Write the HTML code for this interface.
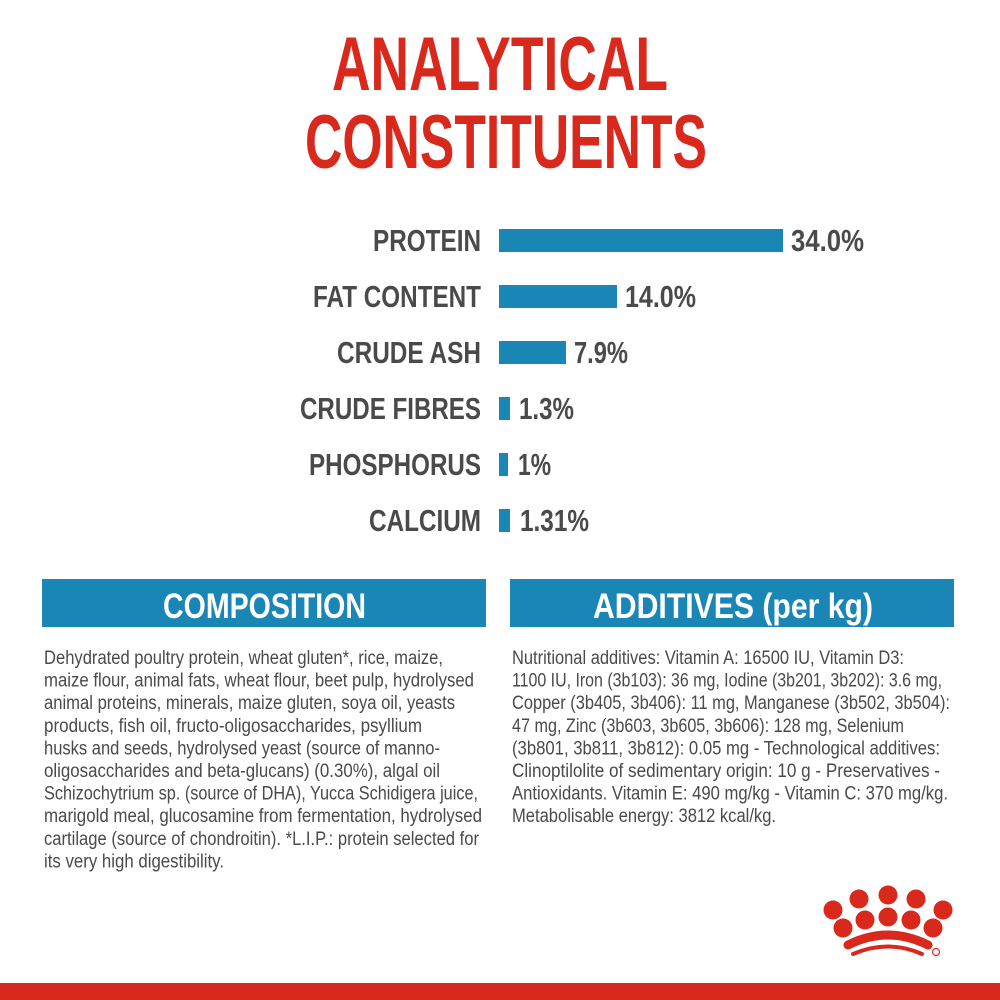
<!DOCTYPE html>
<html><head><meta charset="utf-8"><style>
html,body{margin:0;padding:0;background:#fff;width:1000px;height:1000px;overflow:hidden}
svg{display:block}
text{font-family:"Liberation Sans",sans-serif}
</style></head><body>
<svg width="1000" height="1000" viewBox="0 0 1000 1000" xmlns="http://www.w3.org/2000/svg">
<rect width="1000" height="1000" fill="#fff"/>
<g fill="#d9291c" font-size="76" font-weight="bold">
<text x="332" y="90" textLength="336" lengthAdjust="spacingAndGlyphs">ANALYTICAL</text>
<text x="305" y="168" textLength="402" lengthAdjust="spacingAndGlyphs">CONSTITUENTS</text>
</g>
<g fill="#4a4a4a" font-weight="bold" font-size="31" text-anchor="end">
<text x="481" y="251" textLength="108" lengthAdjust="spacingAndGlyphs">PROTEIN</text>
<text x="481" y="307" textLength="168" lengthAdjust="spacingAndGlyphs">FAT CONTENT</text>
<text x="481" y="363" textLength="144" lengthAdjust="spacingAndGlyphs">CRUDE ASH</text>
<text x="481" y="419" textLength="181" lengthAdjust="spacingAndGlyphs">CRUDE FIBRES</text>
<text x="481" y="475" textLength="172" lengthAdjust="spacingAndGlyphs">PHOSPHORUS</text>
<text x="481" y="531" textLength="112" lengthAdjust="spacingAndGlyphs">CALCIUM</text>
</g>
<g fill="#1a86b6">
<rect x="499" y="229" width="284" height="23"/>
<rect x="499" y="285" width="118" height="23"/>
<rect x="499" y="341" width="67" height="23"/>
<rect x="499" y="397" width="11" height="23"/>
<rect x="499" y="453" width="9" height="23"/>
<rect x="499" y="509" width="11" height="23"/>
</g>
<g fill="#4a4a4a" font-weight="bold" font-size="31">
<text x="791" y="251" textLength="73" lengthAdjust="spacingAndGlyphs">34.0%</text>
<text x="625" y="307" textLength="71" lengthAdjust="spacingAndGlyphs">14.0%</text>
<text x="574" y="363" textLength="54" lengthAdjust="spacingAndGlyphs">7.9%</text>
<text x="519" y="419" textLength="55" lengthAdjust="spacingAndGlyphs">1.3%</text>
<text x="518" y="475" textLength="33" lengthAdjust="spacingAndGlyphs">1%</text>
<text x="520" y="531" textLength="69" lengthAdjust="spacingAndGlyphs">1.31%</text>
</g>
<rect x="42" y="579" width="444" height="48" fill="#1a86b6"/>
<rect x="510" y="579" width="444" height="48" fill="#1a86b6"/>
<g fill="#fff" font-weight="bold" font-size="35">
<text x="163" y="618" textLength="203" lengthAdjust="spacingAndGlyphs">COMPOSITION</text>
<text x="593" y="618" textLength="280" lengthAdjust="spacingAndGlyphs">ADDITIVES (per kg)</text>
</g>
<g fill="#4a4a4a" font-size="19">
<text x="44" y="664" textLength="399" lengthAdjust="spacingAndGlyphs">Dehydrated poultry protein, wheat gluten*, rice, maize,</text>
<text x="44" y="686.6" textLength="430" lengthAdjust="spacingAndGlyphs">maize flour, animal fats, wheat flour, beet pulp, hydrolysed</text>
<text x="44" y="709.2" textLength="411" lengthAdjust="spacingAndGlyphs">animal proteins, minerals, maize gluten, soya oil, yeasts</text>
<text x="44" y="731.8" textLength="378" lengthAdjust="spacingAndGlyphs">products, fish oil, fructo-oligosaccharides, psyllium</text>
<text x="44" y="754.4" textLength="396" lengthAdjust="spacingAndGlyphs">husks and seeds, hydrolysed yeast (source of manno-</text>
<text x="44" y="777" textLength="396" lengthAdjust="spacingAndGlyphs">oligosaccharides and beta-glucans) (0.30%), algal oil</text>
<text x="44" y="799.6" textLength="434" lengthAdjust="spacingAndGlyphs">Schizochytrium sp. (source of DHA), Yucca Schidigera juice,</text>
<text x="44" y="822.2" textLength="438" lengthAdjust="spacingAndGlyphs">marigold meal, glucosamine from fermentation, hydrolysed</text>
<text x="44" y="844.8" textLength="435" lengthAdjust="spacingAndGlyphs">cartilage (source of chondroitin). *L.I.P.: protein selected for</text>
<text x="44" y="867.4" textLength="180" lengthAdjust="spacingAndGlyphs">its very high digestibility.</text>
<text x="512" y="664" textLength="392" lengthAdjust="spacingAndGlyphs">Nutritional additives: Vitamin A: 16500 IU, Vitamin D3:</text>
<text x="512" y="686.6" textLength="430" lengthAdjust="spacingAndGlyphs">1100 IU, Iron (3b103): 36 mg, Iodine (3b201, 3b202): 3.6 mg,</text>
<text x="512" y="709.2" textLength="438" lengthAdjust="spacingAndGlyphs">Copper (3b405, 3b406): 11 mg, Manganese (3b502, 3b504):</text>
<text x="512" y="731.8" textLength="392" lengthAdjust="spacingAndGlyphs">47 mg, Zinc (3b603, 3b605, 3b606): 128 mg, Selenium</text>
<text x="512" y="754.4" textLength="428" lengthAdjust="spacingAndGlyphs">(3b801, 3b811, 3b812): 0.05 mg - Technological additives:</text>
<text x="512" y="777" textLength="428" lengthAdjust="spacingAndGlyphs">Clinoptilolite of sedimentary origin: 10 g - Preservatives -</text>
<text x="512" y="799.6" textLength="436" lengthAdjust="spacingAndGlyphs">Antioxidants. Vitamin E: 490 mg/kg - Vitamin C: 370 mg/kg.</text>
<text x="512" y="822.2" textLength="264" lengthAdjust="spacingAndGlyphs">Metabolisable energy: 3812 kcal/kg.</text>
</g>
<g fill="#d9291c">
<circle cx="833" cy="910" r="9.5"/>
<circle cx="859" cy="899" r="9.5"/>
<circle cx="888" cy="895" r="9.5"/>
<circle cx="916" cy="899" r="9.5"/>
<circle cx="943" cy="910" r="9.5"/>
<circle cx="843" cy="928" r="9.5"/>
<circle cx="865" cy="920" r="9.5"/>
<circle cx="888" cy="917" r="9.5"/>
<circle cx="911" cy="920" r="9.5"/>
<circle cx="933" cy="928" r="9.5"/>
<path d="M848 945 Q888 925 928 945" stroke="#d9291c" stroke-width="9" fill="none" stroke-linecap="round"/>
<path d="M853 954 Q888 939 922 954" stroke="#d9291c" stroke-width="4" fill="none" stroke-linecap="round"/>
<circle cx="936" cy="952" r="3.5" fill="none" stroke="#d9291c" stroke-width="1.2"/>
</g>
<rect x="0" y="983" width="1000" height="17" fill="#d9291c"/>
</svg>
</body></html>
